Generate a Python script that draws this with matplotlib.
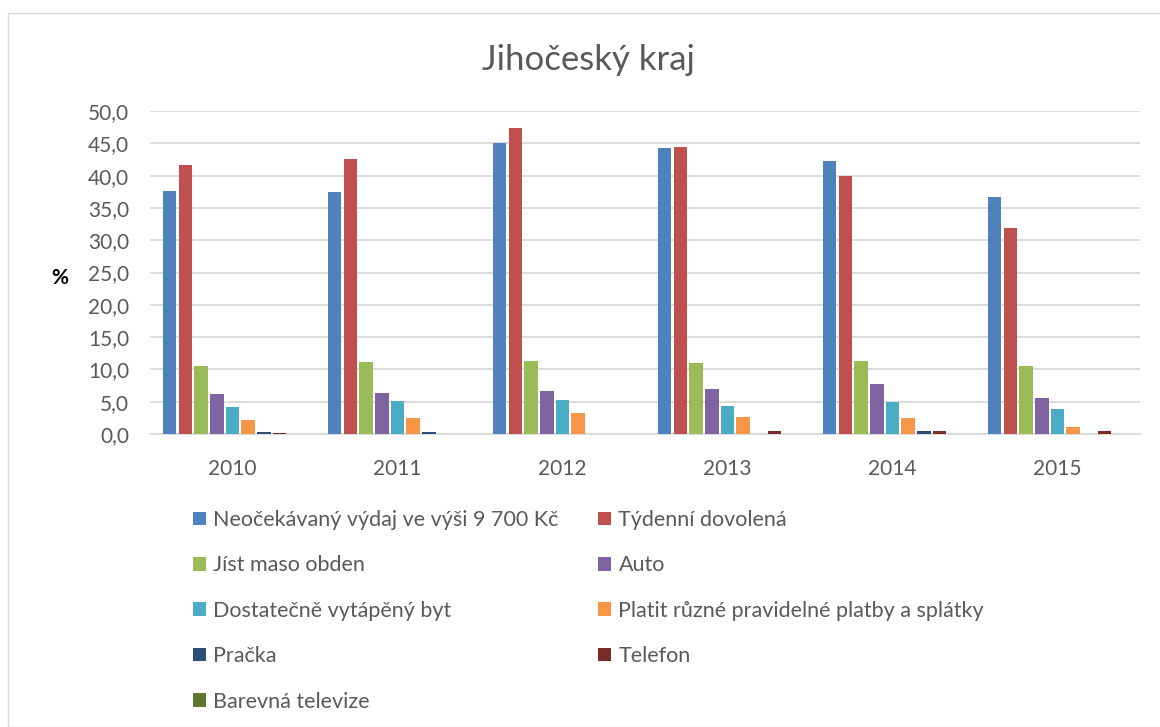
import matplotlib
matplotlib.use("Agg")
import matplotlib.pyplot as plt
import numpy as np
from matplotlib.ticker import FuncFormatter, MultipleLocator
from matplotlib.patches import Rectangle, Patch

years = ["2010", "2011", "2012", "2013", "2014", "2015"]
series_names = [
    "Neočekávaný výdaj ve výši 9 700 Kč",
    "Týdenní dovolená",
    "Jíst maso obden",
    "Auto",
    "Dostatečně vytápěný byt",
    "Platit různé pravidelné platby a splátky",
    "Pračka",
    "Telefon",
    "Barevná televize",
]
neocekavany = [37.6, 37.5, 45.0, 44.2, 42.3, 36.7]
dovolena = [41.6, 42.5, 47.3, 44.4, 40.0, 31.9]
maso = [10.5, 11.2, 11.3, 11.0, 11.3, 10.5]
auto = [6.2, 6.3, 6.7, 6.9, 7.8, 5.5]
byt = [4.2, 5.1, 5.2, 4.3, 5.0, 3.9]
platby = [2.1, 2.5, 3.2, 2.7, 2.4, 1.1]
pracka = [0.3, 0.3, 0.0, 0.0, 0.4, 0.0]
telefon = [0.2, 0.0, 0.0, 0.4, 0.4, 0.4]
televize = [0.0, 0.0, 0.0, 0.0, 0.0, 0.0]
all_series = [neocekavany, dovolena, maso, auto, byt, platby, pracka, telefon, televize]
colors = ["#4F81BD", "#C0504D", "#9BBB59", "#8064A2", "#4BACC6",
          "#F79646", "#2C4D75", "#772C2A", "#5F7530"]

W, H = 1160, 727
fig = plt.figure(figsize=(W / 100, H / 100), dpi=100)
fig.patch.set_facecolor("white")
fig.patches.append(Rectangle((8 / W, 0), 2, (H - 13) / H, transform=fig.transFigure,
                             fill=False, edgecolor="#D9D9D9", linewidth=1))

ax = fig.add_axes([150 / W, (H - 434) / H, (1140 - 150) / W, (434 - 111) / H])
font = "Lato"
text_color = "#595959"

n = len(all_series)
slot = 1 / 10.5
x = np.arange(len(years))
for i, (vals, c) in enumerate(zip(all_series, colors)):
    offs = (i - (n - 1) / 2) * slot
    ax.bar(x + offs, vals, width=slot * 0.86, color=c, edgecolor=c, linewidth=0,
           zorder=3)

ax.set_xlim(-0.5, len(years) - 0.5)
ax.set_ylim(0, 50)
ax.yaxis.set_major_locator(MultipleLocator(5))
ax.yaxis.set_major_formatter(FuncFormatter(lambda v, p: f"{v:.1f}".replace(".", ",")))
ax.set_xticks(x)
ax.set_xticklabels(years)
ax.grid(axis="y", color="#D9D9D9", linewidth=1.3, zorder=0)
for s in ["top", "right", "left"]:
    ax.spines[s].set_visible(False)
ax.spines["bottom"].set_color("#D9D9D9")
ax.spines["bottom"].set_linewidth(1.3)
ax.spines["bottom"].set_zorder(2)
ax.tick_params(axis="both", length=0, labelsize=15, labelcolor=text_color)
ax.tick_params(axis="y", pad=15)
ax.tick_params(axis="x", pad=18)
for lab in ax.get_xticklabels() + ax.get_yticklabels():
    lab.set_fontfamily(font)

fig.text(60 / W, 1 - 278 / H, "%", fontsize=15, fontweight="bold", color="black",
         ha="center", va="center", family=font)
fig.text(588 / W, 1 - 60 / H, "Jihočeský kraj", fontsize=25, color=text_color,
         ha="center", va="center", family=font, fontweight="normal")

handles = [Patch(facecolor=c, edgecolor="none") for c in colors]
for col, idxs, xpos in [(0, [0, 2, 4, 6, 8], 193), (1, [1, 3, 5, 7], 598)]:
    leg = fig.legend([handles[i] for i in idxs], [series_names[i] for i in idxs],
                     loc="upper left", bbox_to_anchor=(xpos / W, 1 - 510 / H),
                     frameon=False, borderpad=0, borderaxespad=0,
                     handlelength=0.6, handleheight=0.6, handletextpad=0.35,
                     labelspacing=1.18, prop={"family": font, "size": 15.5})
    for t in leg.get_texts():
        t.set_color(text_color)

fig.savefig("out.png", dpi=100)
